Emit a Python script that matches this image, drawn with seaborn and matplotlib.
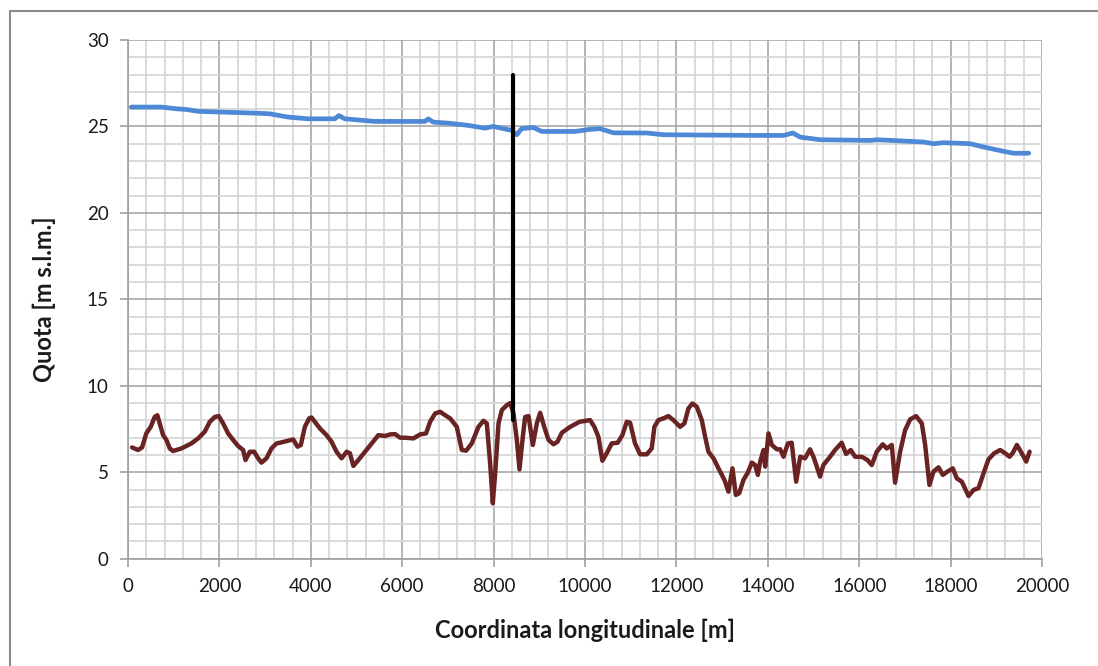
import numpy as np
import pandas as pd
import matplotlib
matplotlib.use("Agg")
import matplotlib.pyplot as plt
from matplotlib.ticker import MultipleLocator
from matplotlib.patches import Rectangle
import seaborn as sns

# ---- data ----
water_x = [73, 730, 1059, 1278, 1533, 2044, 2774, 3103, 3504, 3942, 4526, 4614, 4745,
           5402, 6497, 6570, 6680, 7008, 7446, 7811, 7993, 8395, 8505, 8614, 8870, 9052,
           9782, 10110, 10329, 10621, 11351, 11716, 13687, 14344, 14548, 14709, 15147,
           16242, 16388, 17410, 17629, 17848, 18432, 18724, 19162, 19381, 19710]
water_y = [26.12, 26.12, 26.02, 25.98, 25.87, 25.83, 25.77, 25.73, 25.54, 25.44, 25.44, 25.63, 25.44,
           25.29, 25.29, 25.44, 25.25, 25.19, 25.06, 24.90, 25.00, 24.77, 24.52, 24.87, 24.94, 24.71,
           24.71, 24.83, 24.87, 24.63, 24.62, 24.52, 24.48, 24.48, 24.62, 24.38, 24.23,
           24.19, 24.23, 24.10, 24.00, 24.06, 24.00, 23.81, 23.56, 23.45, 23.45]

bed_x = [88, 219, 307, 400, 496, 584, 642, 694, 767, 840, 913, 986, 1168, 1387, 1533, 1679,
         1789, 1898, 1986, 2080, 2190, 2300, 2409, 2519, 2570, 2665, 2760, 2847, 2920, 3030,
         3139, 3249, 3358, 3504, 3614, 3709, 3782, 3869, 3964, 4015, 4088, 4198, 4344, 4453,
         4563, 4672, 4785, 4855, 4931, 5040, 5187, 5333, 5479, 5625, 5734, 5844, 5953, 6063,
         6245, 6391, 6522, 6610, 6720, 6829, 6939, 7048, 7194, 7304, 7398, 7522, 7668, 7778,
         7851, 7924, 7982, 8034, 8107, 8180, 8289, 8362, 8435, 8508, 8566, 8639, 8690, 8764,
         8858, 8946, 9019, 9107, 9202, 9311, 9399, 9494, 9676, 9880, 10110, 10204, 10292,
         10380, 10474, 10584, 10715, 10818, 10913, 10986, 11095, 11205, 11350, 11460, 11518,
         11606, 11716, 11825, 11934, 12081, 12175, 12263, 12351, 12446, 12555, 12628, 12701,
         12811, 12920, 13051, 13139, 13227, 13300, 13373, 13468, 13562, 13650, 13723, 13782,
         13833, 13906, 13942, 14015, 14088, 14198, 14271, 14344, 14439, 14522, 14621, 14709,
         14815, 14924, 15012, 15143, 15216, 15362, 15472, 15617, 15712, 15815, 15910, 16056,
         16180, 16275, 16384, 16515, 16603, 16713, 16785, 16895, 17005, 17114, 17245, 17370,
         17443, 17537, 17625, 17735, 17829, 17932, 18048, 18136, 18245, 18392, 18501, 18610,
         18720, 18829, 18954, 19085, 19195, 19290, 19363, 19450, 19538, 19655, 19728]
bed_y = [6.44, 6.29, 6.44, 7.25, 7.63, 8.20, 8.30, 7.83, 7.15, 6.87, 6.38, 6.23, 6.38, 6.67, 6.96, 7.35,
         7.92, 8.20, 8.25, 7.83, 7.25, 6.87, 6.52, 6.29, 5.71, 6.19, 6.19, 5.81, 5.56, 5.81,
         6.38, 6.67, 6.73, 6.83, 6.90, 6.48, 6.58, 7.63, 8.12, 8.17, 7.92, 7.54, 7.15, 6.77,
         6.19, 5.81, 6.19, 6.10, 5.37, 5.71, 6.19, 6.67, 7.15, 7.10, 7.19, 7.21, 7.00, 7.00,
         6.96, 7.19, 7.25, 7.92, 8.40, 8.50, 8.30, 8.12, 7.63, 6.29, 6.25, 6.67, 7.63, 7.98,
         7.83, 5.52, 3.21, 4.94, 7.83, 8.60, 8.88, 9.00, 8.40, 6.87, 5.17, 7.06, 8.20, 8.25,
         6.58, 7.83, 8.44, 7.63, 6.87, 6.62, 6.77, 7.29, 7.63, 7.92, 8.02, 7.63, 7.06,
         5.67, 6.10, 6.67, 6.71, 7.15, 7.92, 7.87, 6.67, 6.04, 6.04, 6.38, 7.63,
         8.02, 8.12, 8.25, 8.02, 7.63, 7.83, 8.69, 8.98, 8.79, 8.02, 7.06, 6.19,
         5.81, 5.23, 4.56, 3.88, 5.23, 3.69, 3.79, 4.56, 4.98, 5.56, 5.42, 4.85,
         5.62, 6.29, 5.33, 7.25, 6.58, 6.33, 6.33, 5.90, 6.67, 6.71, 4.46, 5.90,
         5.81, 6.33, 5.81, 4.75, 5.42, 5.90, 6.29, 6.71, 6.06, 6.29, 5.90, 5.90,
         5.71, 5.42, 6.19, 6.62, 6.38, 6.58, 4.40, 6.19, 7.44, 8.06, 8.25, 7.83,
         6.58, 4.27, 5.04, 5.29, 4.85, 5.04, 5.23, 4.65, 4.46, 3.63, 3.98, 4.08,
         4.94, 5.75, 6.10, 6.29, 6.10, 5.90, 6.13, 6.58, 6.19, 5.62, 6.19]

marker_x = [8425, 8425]
marker_y = [8.0, 28.0]

x_ticks = list(range(0, 20001, 2000))
y_ticks = list(range(0, 31, 5))

sns.set_theme(style="white")
plt.rcParams['font.family'] = ['Lato', 'DejaVu Sans']

fig = plt.figure(figsize=(10.98, 6.66), dpi=100)
ax = fig.add_axes([0.1166, 0.161, 0.8324, 0.779])

water = pd.DataFrame({"x": water_x, "y": water_y})
bed = pd.DataFrame({"x": bed_x, "y": bed_y})
mark = pd.DataFrame({"x": marker_x, "y": marker_y})

sns.lineplot(data=water, x="x", y="y", ax=ax, color="#4d89d6", linewidth=3.4,
             estimator=None, sort=False, zorder=3)
sns.lineplot(data=bed, x="x", y="y", ax=ax, color="#6a2323", linewidth=3.2,
             estimator=None, sort=False, zorder=3)
sns.lineplot(data=mark, x="x", y="y", ax=ax, color="#000000", linewidth=3.0,
             estimator=None, sort=False, zorder=4)

ax.set_xlim(0, 20000)
ax.set_ylim(0, 30)
ax.set_xticks(x_ticks)
ax.set_yticks(y_ticks)
ax.xaxis.set_minor_locator(MultipleLocator(400))
ax.yaxis.set_minor_locator(MultipleLocator(1))

ax.grid(which="minor", color="#d4d4d4", linewidth=1.2, zorder=0)
ax.grid(which="major", color="#a8a8a8", linewidth=1.2, zorder=1)
ax.set_axisbelow(True)

for s in ["top", "right"]:
    ax.spines[s].set_visible(False)
for s in ["left", "bottom"]:
    ax.spines[s].set_color("#a0a0a0")
    ax.spines[s].set_linewidth(1.2)

ax.tick_params(axis="both", which="major", direction="out", length=6, width=1.2,
               color="#a0a0a0", labelsize=13.5, labelcolor="#1a1a1a")
ax.tick_params(axis="x", which="major", pad=8, bottom=True)
ax.tick_params(axis="y", which="major", pad=8, left=True)
ax.tick_params(which="minor", length=0)

ax.set_xlabel("Coordinata longitudinale [m]", fontsize=17, fontweight="bold",
              color="#1a1a1a", labelpad=17)
ax.set_ylabel("Quota [m s.l.m.]", fontsize=17, fontweight="bold",
              color="#1a1a1a", labelpad=22)

fig.patches.append(Rectangle((10 / 1098, -0.01), 1.0, 1 - 11 / 666 + 0.01,
                             transform=fig.transFigure, fill=False,
                             edgecolor="#8a8a8a", linewidth=1.5))

fig.savefig("out.png", dpi=100)
